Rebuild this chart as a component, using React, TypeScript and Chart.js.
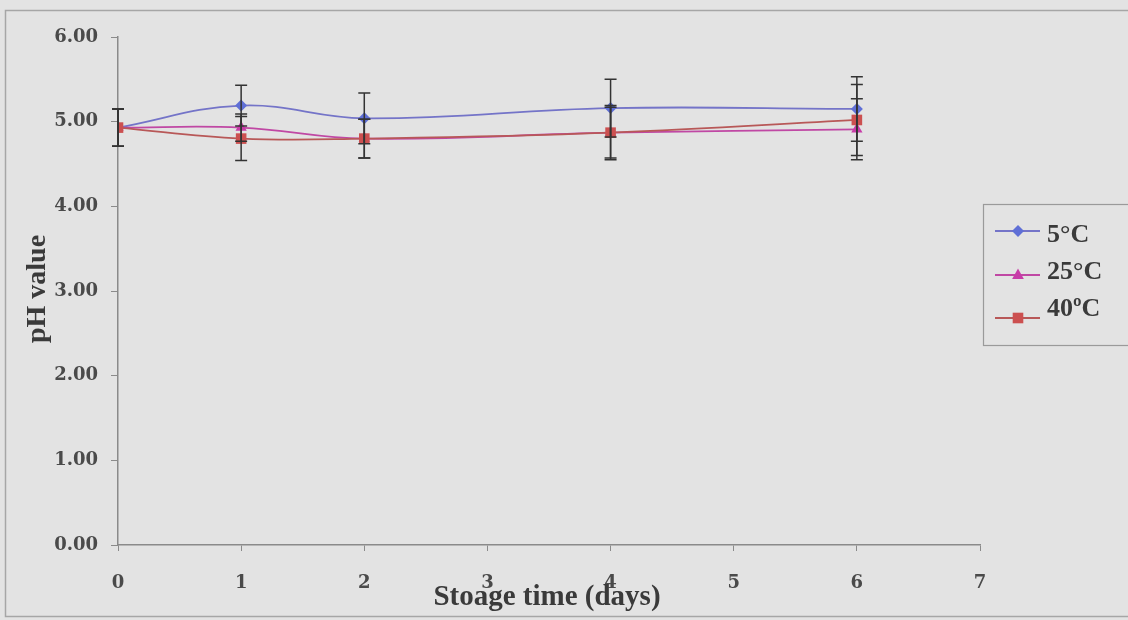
import React, { useEffect, useRef } from "react";
import { Chart, registerables } from "chart.js";
Chart.register(...registerables);

const days = [0, 1, 2, 4, 6];
const seriesLabels = ["5°C", "25°C", "40ºC"];
const ph5 = [4.93, 5.19, 5.04, 5.16, 5.15];
const ph25 = [4.93, 4.93, 4.8, 4.87, 4.91];
const ph40 = [4.93, 4.8, 4.8, 4.87, 5.02];
const err5 = [0.22, 0.24, 0.3, 0.34, 0.38];
const err25 = [0.22, 0.16, 0.23, 0.3, 0.36];
const err40 = [0.22, 0.26, 0.23, 0.32, 0.42];
const xTitle = "Stoage time (days)";
const yTitle = "pH value";

const lineColors = ["#7474c8", "#c048a4", "#b85858"];
const markerColors = ["#5f6fd6", "#c83ca8", "#cc5050"];
const markerStyles = ["rectRot", "triangle", "rect"];
const markerRadius = [6, 6.5, 7.5];
const values = [ph5, ph25, ph40];
const errors = [err5, err25, err40];
const FONT = '"Liberation Serif", "Times New Roman", serif';
const TICKFONT = '"DejaVu Serif", serif';

function drawMarker(ctx: CanvasRenderingContext2D, style: string, x: number, y: number, r: number, color: string) {
  ctx.save();
  ctx.fillStyle = color;
  ctx.beginPath();
  if (style === "rectRot") {
    ctx.moveTo(x, y - r);
    ctx.lineTo(x + r, y);
    ctx.lineTo(x, y + r);
    ctx.lineTo(x - r, y);
  } else if (style === "triangle") {
    ctx.moveTo(x, y - r);
    ctx.lineTo(x + r * 0.9, y + r * 0.6);
    ctx.lineTo(x - r * 0.9, y + r * 0.6);
  } else {
    const s = r * Math.SQRT1_2;
    ctx.rect(x - s, y - s, 2 * s, 2 * s);
  }
  ctx.closePath();
  ctx.fill();
  ctx.restore();
}

const decorPlugin = {
  id: "decor",
  beforeDraw(chart: any) {
    const ctx = chart.ctx as CanvasRenderingContext2D;
    ctx.save();
    ctx.fillStyle = "#e3e3e3";
    ctx.fillRect(0, 0, chart.width, chart.height);
    ctx.strokeStyle = "#a6a6a6";
    ctx.lineWidth = 1.5;
    ctx.strokeRect(5.5, 10.5, chart.width + 20, 606);
    ctx.restore();
  },
  afterDatasetsDraw(chart: any) {
    const ctx = chart.ctx as CanvasRenderingContext2D;
    const xs = chart.scales.x;
    const ys = chart.scales.y;
    ctx.save();
    ctx.strokeStyle = "#333333";
    ctx.lineWidth = 1.5;
    values.forEach((vals, i) => {
      vals.forEach((v, j) => {
        const x = xs.getPixelForValue(days[j]);
        const yt = ys.getPixelForValue(v + errors[i][j]);
        const yb = ys.getPixelForValue(v - errors[i][j]);
        ctx.beginPath();
        ctx.moveTo(x, yt);
        ctx.lineTo(x, yb);
        ctx.moveTo(x - 6, yt);
        ctx.lineTo(x + 6, yt);
        ctx.moveTo(x - 6, yb);
        ctx.lineTo(x + 6, yb);
        ctx.stroke();
      });
    });
    ctx.restore();
  },
  afterDraw(chart: any) {
    const ctx = chart.ctx as CanvasRenderingContext2D;
    const ca = chart.chartArea;
    ctx.save();
    ctx.fillStyle = "#3a3a3a";
    ctx.font = `bold 29px ${FONT}`;
    ctx.textAlign = "center";
    ctx.textBaseline = "alphabetic";
    ctx.fillText(xTitle, (ca.left + ca.right) / 2 - 2, 605);
    ctx.save();
    ctx.translate(45, (ca.top + ca.bottom) / 2 - 2);
    ctx.rotate(-Math.PI / 2);
    ctx.font = `bold 28px ${FONT}`;
    ctx.fillText(yTitle, 0, 0);
    ctx.restore();

    // legend
    ctx.strokeStyle = "#9a9a9a";
    ctx.lineWidth = 1.2;
    ctx.strokeRect(983.5, 204.5, 170, 141);
    const lineYs = [231, 275, 318];
    const textYs = [234, 271, 308];
    seriesLabels.forEach((lab, i) => {
      const y = lineYs[i];
      ctx.strokeStyle = lineColors[i];
      ctx.lineWidth = 1.8;
      ctx.beginPath();
      ctx.moveTo(995, y);
      ctx.lineTo(1040, y);
      ctx.stroke();
      drawMarker(ctx, markerStyles[i], 1018, y, markerRadius[i], markerColors[i]);
      ctx.fillStyle = "#3a3a3a";
      ctx.font = `bold 26px ${FONT}`;
      ctx.textAlign = "left";
      ctx.textBaseline = "middle";
      ctx.fillText(lab, 1047, textYs[i] + 1);
    });
    ctx.restore();
  },
};

export default function App() {
  const ref = useRef<HTMLCanvasElement>(null);
  useEffect(() => {
    document.body.style.margin = "0";
    document.body.style.background = "#e3e3e3";
    const chart = new Chart(ref.current!, {
      type: "line",
      data: {
        datasets: values.map((vals, i) => ({
          label: seriesLabels[i],
          data: vals.map((v, j) => ({ x: days[j], y: v })),
          borderColor: lineColors[i],
          backgroundColor: markerColors[i],
          borderWidth: 1.8,
          pointStyle: markerStyles[i] as any,
          pointRadius: markerRadius[i],
          pointBorderWidth: 0,
          pointBackgroundColor: markerColors[i],
          tension: 0.4,
          fill: false,
          order: 2 - i,
        })),
      },
      options: {
        responsive: false,
        animation: false,
        layout: { padding: { top: 37, right: 148, left: 0, bottom: 0 } },
        plugins: { legend: { display: false }, tooltip: { enabled: false } },
        scales: {
          x: {
            type: "linear",
            min: 0,
            max: 7,
            afterFit: (s: any) => {
              s.height = 75;
            },
            ticks: {
              stepSize: 1,
              padding: 22,
              color: "#4a4a4a",
              font: { family: TICKFONT, size: 18, weight: "bold" },
            },
            grid: { display: true, drawOnChartArea: false, drawTicks: true, tickLength: 6, color: "#8a8a8a" },
            border: { display: true, color: "#8a8a8a", width: 1.5 },
          },
          y: {
            min: 0,
            max: 6,
            afterFit: (s: any) => {
              s.width = 118;
            },
            ticks: {
              stepSize: 1,
              padding: 13,
              color: "#4a4a4a",
              font: { family: TICKFONT, size: 18, weight: "bold" },
              callback: (v: any) => Number(v).toFixed(2),
            },
            grid: { display: true, drawOnChartArea: false, drawTicks: true, tickLength: 7, color: "#8a8a8a" },
            border: { display: true, color: "#8a8a8a", width: 1.5 },
          },
        },
      },
      plugins: [decorPlugin],
    });
    return () => chart.destroy();
  }, []);
  return (
    <div style={{ width: 1128, height: 620 }}>
      <canvas ref={ref} width={1128} height={620} style={{ display: "block" }} />
    </div>
  );
}
